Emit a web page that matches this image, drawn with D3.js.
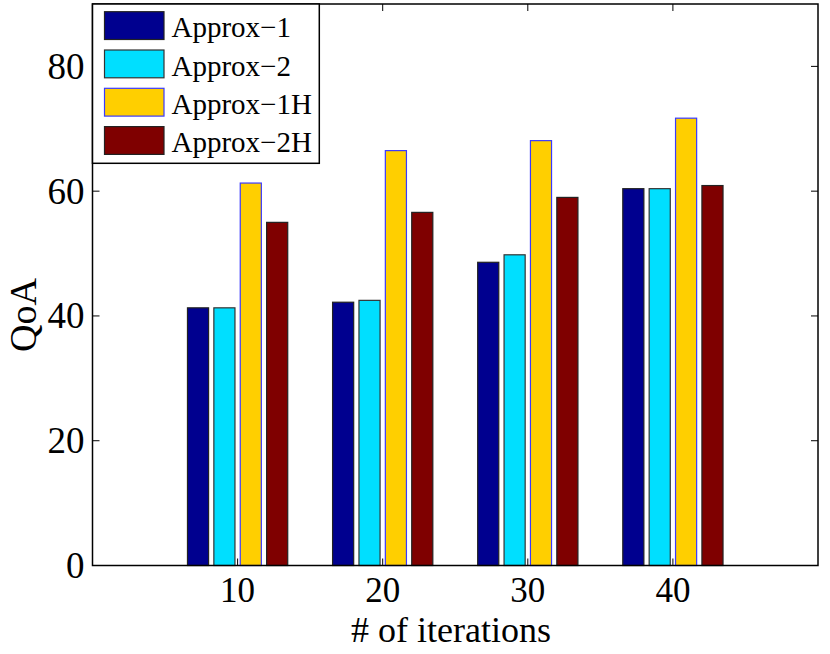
<!DOCTYPE html>
<html>
<head>
<meta charset="utf-8">
<script src="https://cdn.jsdelivr.net/npm/d3@7"></script>
<style>
html,body{margin:0;padding:0;background:#fff;}
svg{display:block;}
text{font-family:"Liberation Serif","Times New Roman",serif;fill:#000;}
</style>
</head>
<body>
<svg id="chart" width="830" height="654"></svg>
<script>
// ---- data ----
const iterations = [10, 20, 30, 40];
const seriesNames = ["Approx\u22121", "Approx\u22122", "Approx\u22121H", "Approx\u22122H"];
const approx1  = [41.3, 42.2, 48.6, 60.4];
const approx2  = [41.3, 42.5, 49.8, 60.4];
const approx1H = [61.3, 66.5, 68.1, 71.7];
const approx2H = [55.0, 56.6, 59.0, 60.9];
const yTicks = [0, 20, 40, 60, 80];
const xTicks = [10, 20, 30, 40];
const fills = ["#00008f", "#00dfff", "#ffcf00", "#7f0000"];
const strokes = ["#222", "#333", "#3a3aff", "#222"];

const series = [approx1, approx2, approx1H, approx2H];

const svg = d3.select("#chart");
const m = {l: 92.5, r: 818, t: 4, b: 565.5};

const x = d3.scaleLinear().domain([0, 50]).range([m.l, m.r]);
const y = d3.scaleLinear().domain([0, 90]).range([m.b, m.t]);

// MATLAB grouped-bar geometry (in data units)
const groupWidth = 10 * 4 / 5.5;
const slot = groupWidth / 4;
const barW = slot * 0.8;

const bars = svg.append("g");
series.forEach((vals, si) => {
  bars.selectAll(null).data(vals).enter().append("rect")
    .attr("x", (d, i) => x(iterations[i] - groupWidth / 2 + slot * (si + 0.5) - barW / 2))
    .attr("width", (d, i) => x(barW) - x(0))
    .attr("y", d => y(d))
    .attr("height", d => y(0) - y(d))
    .attr("fill", fills[si])
    .attr("stroke", strokes[si])
    .attr("stroke-width", 1.2);
});

// axes (box with inward ticks)
const tickLen = 7;
const axG = svg.append("g");
axG.append("rect")
  .attr("x", m.l).attr("y", m.t)
  .attr("width", m.r - m.l).attr("height", m.b - m.t)
  .attr("fill", "none").attr("stroke", "#000").attr("stroke-width", 1.5);

yTicks.forEach(t => {
  axG.append("line").attr("x1", m.l).attr("x2", m.l + tickLen)
    .attr("y1", y(t)).attr("y2", y(t)).attr("stroke", "#000").attr("stroke-width", 1);
  axG.append("line").attr("x1", m.r).attr("x2", m.r - tickLen)
    .attr("y1", y(t)).attr("y2", y(t)).attr("stroke", "#000").attr("stroke-width", 1);
  axG.append("text").attr("x", m.l - 8).attr("y", y(t))
    .attr("text-anchor", "end").attr("dominant-baseline", "central")
    .attr("font-size", 37).text(t);
});
xTicks.forEach(t => {
  axG.append("line").attr("x1", x(t)).attr("x2", x(t))
    .attr("y1", m.b).attr("y2", m.b - tickLen).attr("stroke", "#000").attr("stroke-width", 1);
  axG.append("line").attr("x1", x(t)).attr("x2", x(t))
    .attr("y1", m.t).attr("y2", m.t + tickLen).attr("stroke", "#000").attr("stroke-width", 1);
  axG.append("text").attr("x", x(t)).attr("y", 602)
    .attr("text-anchor", "middle")
    .attr("font-size", 35).text(t);
});

// axis labels
svg.append("text").attr("x", 451).attr("y", 642)
  .attr("text-anchor", "middle").attr("font-size", 36).text("# of iterations");
svg.append("text")
  .attr("transform", "translate(36,315) rotate(-90)")
  .attr("text-anchor", "middle").attr("font-size", 38).text("QoA");

// legend
const lg = svg.append("g");
lg.append("rect").attr("x", m.l).attr("y", m.t)
  .attr("width", 319.3 - m.l).attr("height", 163.3 - m.t)
  .attr("fill", "#fff").attr("stroke", "#000").attr("stroke-width", 1.5);
seriesNames.forEach((name, i) => {
  const yy = 11.7 + i * 38.3;
  lg.append("rect").attr("x", 104.5).attr("y", yy)
    .attr("width", 59.5).attr("height", 27.8)
    .attr("fill", fills[i]).attr("stroke", strokes[i]).attr("stroke-width", 1.2);
  lg.append("text").attr("x", 171.5).attr("y", yy + 25.5)
    .attr("font-size", 29).text(name);
});
</script>
</body>
</html>
